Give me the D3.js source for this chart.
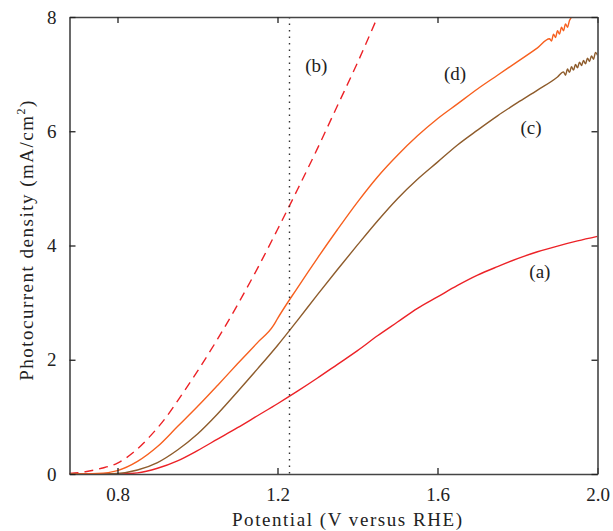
<!DOCTYPE html>
<html>
<head>
<meta charset="utf-8">
<script src="https://cdn.jsdelivr.net/npm/d3@7"></script>
<style>
  body { margin: 0; background: #fff; }
  text { font-family: "Liberation Serif", "Times New Roman", serif !important; }
</style>
</head>
<body>
<svg id="chart" width="613" height="531"></svg>
<script>
// potential (V vs RHE) and photocurrent density (mA/cm2)
var aV = [0.68, 0.75, 0.8, 0.85, 0.9, 0.95, 1.0, 1.05, 1.1, 1.15, 1.2, 1.25, 1.3, 1.35, 1.4, 1.45, 1.5, 1.55, 1.6, 1.65, 1.7, 1.75, 1.8, 1.85, 1.9, 1.95, 2.0];
var aJ = [0, 0, 0, 0.02, 0.1, 0.23, 0.41, 0.61, 0.81, 1.02, 1.23, 1.45, 1.68, 1.92, 2.16, 2.42, 2.66, 2.9, 3.1, 3.3, 3.48, 3.63, 3.77, 3.89, 3.99, 4.08, 4.16];

var bV = [0.68, 0.72, 0.76, 0.8, 0.84, 0.88, 0.92, 0.96, 1.0, 1.05, 1.1, 1.15, 1.2, 1.25, 1.3, 1.35, 1.4, 1.45];
var bJ = [0.01, 0.04, 0.1, 0.19, 0.38, 0.65, 0.98, 1.38, 1.8, 2.36, 2.96, 3.6, 4.28, 4.98, 5.7, 6.45, 7.2, 8.0];

var cV = [0.68, 0.75, 0.8, 0.85, 0.9, 0.95, 1.0, 1.05, 1.1, 1.15, 1.2, 1.25, 1.3, 1.35, 1.4, 1.45, 1.5, 1.55, 1.6, 1.65, 1.7, 1.75, 1.8, 1.85, 1.9,
          1.915, 1.92, 1.925, 1.93, 1.935, 1.94, 1.945, 1.95, 1.955, 1.96, 1.965, 1.97, 1.975, 1.98, 1.985, 1.99, 1.995, 2.0];
var cJ = [0, 0, 0.01, 0.07, 0.2, 0.42, 0.7, 1.05, 1.44, 1.84, 2.25, 2.69, 3.14, 3.58, 4.01, 4.43, 4.82, 5.16, 5.46, 5.76, 6.02, 6.27, 6.5, 6.72, 6.95,
          7.04, 6.98, 7.09, 7.03, 7.13, 7.07, 7.17, 7.11, 7.21, 7.15, 7.24, 7.18, 7.28, 7.22, 7.32, 7.26, 7.38, 7.33];

var dV = [0.68, 0.75, 0.8, 0.85, 0.9, 0.95, 1.0, 1.05, 1.1, 1.15, 1.19, 1.2, 1.25, 1.3, 1.35, 1.4, 1.45, 1.5, 1.55, 1.6, 1.65, 1.7, 1.75, 1.8, 1.85, 1.88,
          1.885, 1.89, 1.895, 1.9, 1.905, 1.91, 1.915, 1.92, 1.925, 1.93, 1.94];
var dJ = [0, 0.01, 0.06, 0.22, 0.48, 0.83, 1.18, 1.55, 1.93, 2.3, 2.6, 2.72, 3.26, 3.78, 4.28, 4.76, 5.2, 5.58, 5.92, 6.22, 6.48, 6.74, 6.98, 7.22, 7.46, 7.62,
          7.58, 7.7, 7.64, 7.76, 7.7, 7.82, 7.76, 7.88, 7.82, 7.94, 8.02];

var xTicks = [0.8, 1.2, 1.6, 2.0];
var yTicks = [0, 2, 4, 6, 8];
var eo = 1.23; // dotted reference potential

var m = { left: 69.5, right: 15.5, top: 17, bottom: 57 };
var svg = d3.select("#chart");
var W = 613, H = 531;

var x = d3.scaleLinear().domain([0.68, 2.0]).range([m.left, W - m.right]);
var y = d3.scaleLinear().domain([0, 8]).range([H - m.bottom, m.top]);

//clip curves to the plot box
svg.append("clipPath").attr("id", "clip").append("rect")
    .attr("x", x(0.68)).attr("y", y(8))
    .attr("width", x(2.0) - x(0.68)).attr("height", y(0) - y(8));

var line = d3.line().x(d => x(d[0])).y(d => y(d[1])).curve(d3.curveMonotoneX);

var series = [
    { v: aV, j: aJ, color: "#ec2227", dash: null },
    { v: bV, j: bJ, color: "#ec2227", dash: "9,6" },
    { v: cV, j: cJ, color: "#8e5c2c", dash: null },
    { v: dV, j: dJ, color: "#f7601f", dash: null }
];

var g = svg.append("g").attr("clip-path", "url(#clip)");

series.forEach(function(s) {
    g.append("path")
        .datum(s.v.map((v, i) => [v, s.j[i]]))
        .attr("d", line)
        .attr("fill", "none")
        .attr("stroke", s.color)
        .attr("stroke-width", 1.4)
        .attr("stroke-dasharray", s.dash);
});

//dotted vertical line at 1.23 V
svg.append("line")
    .attr("x1", x(eo)).attr("x2", x(eo))
    .attr("y1", y(8)).attr("y2", y(0))
    .attr("stroke", "#333").attr("stroke-width", 1.4)
    .attr("stroke-dasharray", "1.5,5");

//axes with inward ticks on all sides
var tickLen = 6;
var axBottom = svg.append("g").attr("transform", "translate(0," + y(0) + ")")
    .call(d3.axisBottom(x).tickValues(xTicks).tickFormat(d3.format(".1f")).tickSizeInner(-tickLen).tickSizeOuter(0).tickPadding(14));
var axTop = svg.append("g").attr("transform", "translate(0," + y(8) + ")")
    .call(d3.axisTop(x).tickValues(xTicks).tickFormat("").tickSizeInner(-tickLen).tickSizeOuter(0));
var axLeft = svg.append("g").attr("transform", "translate(" + x(0.68) + ",0)")
    .call(d3.axisLeft(y).tickValues(yTicks).tickFormat(d3.format("d")).tickSizeInner(-tickLen).tickSizeOuter(0).tickPadding(13));
var axRight = svg.append("g").attr("transform", "translate(" + x(2.0) + ",0)")
    .call(d3.axisRight(y).tickValues(yTicks).tickFormat("").tickSizeInner(-tickLen).tickSizeOuter(0));

[axBottom, axTop, axLeft, axRight].forEach(function(a) {
    a.select(".domain").attr("stroke", "#444").attr("stroke-width", 1.6);
    a.selectAll(".tick line").attr("stroke", "#222").attr("stroke-width", 1.3);
    a.selectAll("text").attr("font-size", 19).attr("fill", "#222");
});

//axis titles
svg.append("text")
    .attr("x", 347).attr("y", 526)
    .attr("text-anchor", "middle").attr("font-size", 19).attr("fill", "#222")
    .attr("textLength", 230).attr("lengthAdjust", "spacing")
    .text("Potential (V versus RHE)");

var yl = svg.append("text")
    .attr("transform", "translate(33,240) rotate(-90)")
    .attr("text-anchor", "middle").attr("font-size", 19).attr("fill", "#222")
    .attr("letter-spacing", 1.5);
yl.append("tspan").text("Photocurrent density (mA/cm");
yl.append("tspan").attr("font-size", 12).attr("dy", -8).text("2");
yl.append("tspan").attr("dy", 8).text(")");

//curve labels
var labels = [
    { t: "(a)", v: 1.856, j: 3.43 },
    { t: "(b)", v: 1.297, j: 7.04 },
    { t: "(c)", v: 1.834, j: 5.95 },
    { t: "(d)", v: 1.644, j: 6.9 }
];
svg.selectAll(".lab").data(labels).enter().append("text")
    .attr("class", "lab")
    .attr("x", d => x(d.v)).attr("y", d => y(d.j))
    .attr("text-anchor", "middle").attr("font-size", 19).attr("fill", "#222")
    .text(d => d.t);
</script>
</body>
</html>
